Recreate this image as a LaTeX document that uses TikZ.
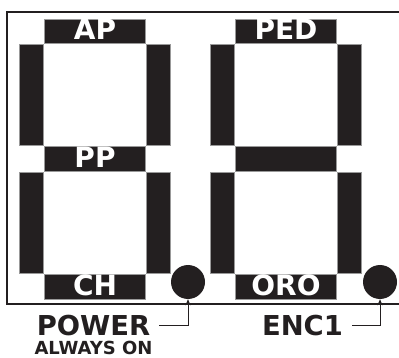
\documentclass[tikz,border=0pt]{standalone}
\usepackage{fontspec}
\setmainfont{DejaVu Sans}
\usetikzlibrary{arrows.meta}
\definecolor{segink}{HTML}{231F20}
\tikzset{
  seg/.style={fill=segink,draw=black!40,line width=.6pt},
  seglabel/.style={text=white,font=\bfseries\fontsize{28}{28}\selectfont,inner sep=0pt,anchor=base},
  dot/.style={circle,fill=segink,minimum size=34pt,inner sep=0pt},
  callout/.style={font=\bfseries\fontsize{27.4}{28}\selectfont,text=segink,inner sep=0pt,anchor=base},
  lead/.style={line width=1pt,draw=segink,shorten <=9pt,-{Stealth[length=6pt,width=5pt]}}
}
\begin{document}
\begin{tikzpicture}[x=1pt,y=-1pt]
\useasboundingbox (0,0) rectangle (399,358);

\draw[line width=1.5pt,segink] (7,12) rectangle (420,304);

\foreach \dx in {0,191}{
\foreach \a/\b/\c/\d in {
44.5/19/145.5/43,
44.5/146/145.5/171,
44.5/274/145.5/299,
19/44/43.5/145,
146.5/44/170.5/145,
19/172/43.5/273,
146.5/172/170.5/273
}{
\filldraw[seg] (\a+\dx,\b) rectangle (\c+\dx,\d);
}
}

\node[seglabel] (ap) at (95,39.5) {AP};
\node[seglabel] (pp) at (95,167.5) {PP};
\node[seglabel] (ch) at (95,295.5) {CH};
\node[seglabel] (ped) at (286,39.5) {PED};
\node[seglabel] (oro) at (286,295.5) {ORO};

\node[dot] (dotL) at (188,282) {};
\node[dot] (dotR) at (380,282) {};

\node[callout] (power) at (93.5,335) {POWER};
\node[callout,font=\bfseries\fontsize{18}{19}\selectfont] (always) at (93.5,354.5) {ALWAYS ON};
\node[callout] (enc) at (302.5,335) {ENC1};

\draw[lead] (power.east) -| (dotL.south);
\draw[lead] (enc.east) -| (dotR.south);

\end{tikzpicture}
\end{document}
